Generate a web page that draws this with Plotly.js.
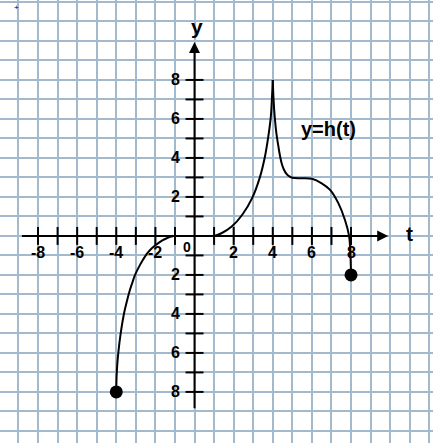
<!DOCTYPE html>
<html>
<head>
<meta charset="utf-8">
<script src="https://cdn.plot.ly/plotly-3.0.1.min.js"></script>
<style>html,body{margin:0;padding:0;background:#fff;}#chart{width:433px;height:443px;}</style>
</head>
<body>
<div id="chart"></div>
<script>
// Left branch of y = h(t)
const leftT = [-4, -3.984, -3.95, -3.89, -3.775, -3.6, -3.47, -3.33, -3.18, -3.04, -2.82, -2.62, -2.44, -2.27, -2.05, -1.85, -1.62, -1.42, -1.25, -1.1];
const leftY = [-8, -7.2, -6.6, -5.93, -5.0, -3.95, -3.4, -2.86, -2.4, -2.0, -1.55, -1.2, -0.92, -0.72, -0.52, -0.37, -0.22, -0.12, -0.05, -0.02];
// Rising part up to the cusp
const riseT = [1, 1.4, 1.9, 2.45, 2.95, 3.35, 3.6, 3.77, 3.9, 3.96, 4.0];
const riseY = [0, 0.15, 0.48, 1.1, 1.95, 3.04, 4.07, 5.09, 6.12, 7.14, 8.0];
// Falling part after the cusp
const fallT = [4.0, 4.04, 4.1, 4.18, 4.27, 4.37, 4.46, 4.56, 4.7, 4.85, 5.0, 5.5, 6.0, 6.5, 6.93, 7.35, 7.69, 7.9, 7.97, 8.0];
const fallY = [8, 7.0, 6.1, 5.3, 4.7, 4.1, 3.7, 3.42, 3.18, 3.05, 2.98, 2.96, 2.93, 2.7, 2.36, 1.68, 0.82, 0, -1.0, -2.0];
// Closed endpoints
const dotT = [-4, 8];
const dotY = [-8, -2];
// Tick marks and labels
const xTickMarks = [-8, -7, -6, -5, -4, -3, -2, -1, 1, 2, 3, 4, 5, 6, 7, 8];
const yTickMarks = [-8, -7, -6, -5, -4, -3, -2, -1, 1, 2, 3, 4, 5, 6, 7, 8];
const xLabelVals = [-8, -6, -4, -2, 2, 4, 6, 8];
const xLabelText = ['-8', '-6', '-4', '-2', '2', '4', '6', '8'];
const yLabelVals = [8, 6, 4, 2, -2, -4, -6, -8];
const yLabelText = ['8', '6', '4', '2', '2', '4', '6', '8'];

const FONT = 'Liberation Sans, Arial, sans-serif';
const lineStyle = {color: '#000', width: 2, shape: 'spline', smoothing: 1};

const traces = [
  {x: leftT, y: leftY, mode: 'lines', line: lineStyle, hoverinfo: 'skip'},
  {x: riseT, y: riseY, mode: 'lines', line: lineStyle, hoverinfo: 'skip'},
  {x: fallT, y: fallY, mode: 'lines', line: lineStyle, hoverinfo: 'skip'},
  {x: dotT, y: dotY, mode: 'markers', marker: {color: '#000', size: 13}, hoverinfo: 'skip'}
];

const shapes = [];
xTickMarks.forEach(v => shapes.push({type: 'line', xref: 'x', yref: 'y', x0: v, x1: v, y0: -0.46, y1: 0.46, line: {color: '#000', width: 2}}));
yTickMarks.forEach(v => shapes.push({type: 'line', xref: 'x', yref: 'y', y0: v, y1: v, x0: -0.46, x1: 0.46, line: {color: '#000', width: 2}}));

const lbl = {family: FONT, size: 16, color: '#000', weight: 'bold'};
const annotations = [];
annotations.push({xref: 'x', yref: 'y', axref: 'x', ayref: 'y', x: 9.9, y: 0, ax: -8.9, ay: 0, text: '', showarrow: true, arrowhead: 2, arrowsize: 1.1, arrowwidth: 2, arrowcolor: '#000', standoff: 0, startstandoff: 0});
annotations.push({xref: 'x', yref: 'y', axref: 'x', ayref: 'y', x: 0, y: 9.95, ax: 0, ay: -8.92, text: '', showarrow: true, arrowhead: 2, arrowsize: 1.1, arrowwidth: 2, arrowcolor: '#000', standoff: 0, startstandoff: 0});
xLabelVals.forEach((v, i) => annotations.push({xref: 'x', yref: 'y', x: v, y: 0, yshift: -17, text: '<b>' + xLabelText[i] + '</b>', showarrow: false, font: lbl}));
yLabelVals.forEach((v, i) => annotations.push({xref: 'x', yref: 'y', x: 0, y: v, xshift: -19, text: '<b>' + yLabelText[i] + '</b>', showarrow: false, font: lbl}));
annotations.push({xref: 'x', yref: 'y', x: 0, y: 0, xshift: -8, yshift: -11, text: '<b>0</b>', showarrow: false, font: {family: FONT, size: 14, color: '#000', weight: 'bold'}});
annotations.push({xref: 'x', yref: 'y', x: 0.12, y: 10.72, text: '<b>y</b>', showarrow: false, font: {family: FONT, size: 21, color: '#000', weight: 'bold'}});
annotations.push({xref: 'x', yref: 'y', x: 11.0, y: 0.1, text: '<b>t</b>', showarrow: false, font: {family: FONT, size: 21, color: '#000', weight: 'bold'}});
annotations.push({xref: 'x', yref: 'y', x: 6.83, y: 5.5, text: '<b>y=h(t)</b>', showarrow: false, font: {family: FONT, size: 20, color: '#000', weight: 'bold'}});
annotations.push({xref: 'x', yref: 'y', x: -9.12, y: 11.72, text: '+', showarrow: false, font: {family: FONT, size: 8, color: '#000'}});

const axisCommon = {
  showgrid: true, gridcolor: '#a3bace', gridwidth: 2, dtick: 1, tick0: 0,
  zeroline: false, showticklabels: false, ticks: '', showline: false, fixedrange: true
};

const layout = {
  width: 433, height: 443,
  margin: {l: 0, r: 0, t: 0, b: 0, pad: 0},
  paper_bgcolor: '#fff', plot_bgcolor: '#fff',
  showlegend: false,
  xaxis: Object.assign({range: [-9.944, 12.19]}, axisCommon),
  yaxis: Object.assign({range: [-10.62, 12.10]}, axisCommon),
  shapes: shapes,
  annotations: annotations
};

Plotly.newPlot('chart', traces, layout, {displayModeBar: false, staticPlot: true});
</script>
</body>
</html>
